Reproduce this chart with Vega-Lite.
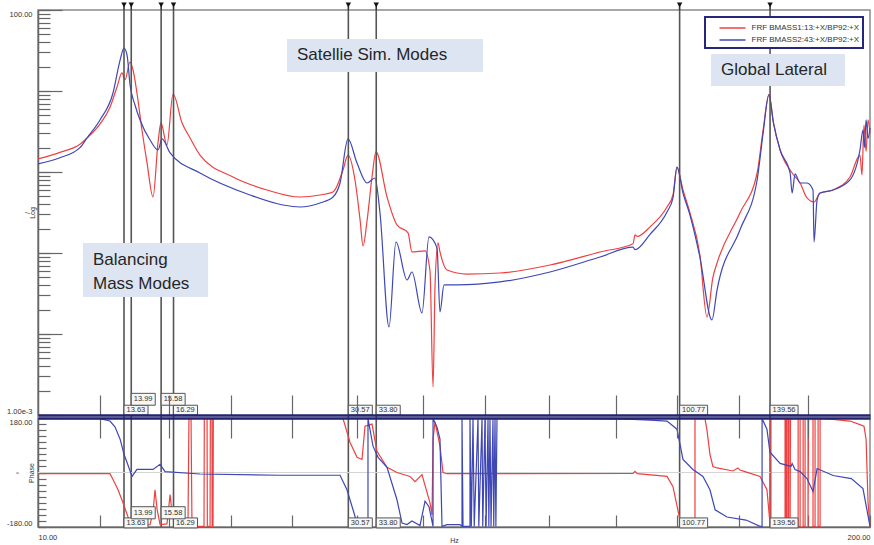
{
  "$schema": "https://vega.github.io/schema/vega-lite/v6.json",
  "width": 832,
  "height": 517,
  "autosize": {"type": "none"},
  "padding": {"left": 38, "top": 10, "right": 4, "bottom": 18},
  "background": "white",
  "datasets": {
    "mag": [
      {"f":10.00,"v":1.45,"s":"FRF BMASS1:13:+X/BP92:+X"},{"f":10.82,"v":1.75,"s":"FRF BMASS1:13:+X/BP92:+X"},{"f":11.63,"v":2.2,"s":"FRF BMASS1:13:+X/BP92:+X"},{"f":11.93,"v":2.63,"s":"FRF BMASS1:13:+X/BP92:+X"},{"f":12.50,"v":3.9,"s":"FRF BMASS1:13:+X/BP92:+X"},{"f":12.96,"v":6.3,"s":"FRF BMASS1:13:+X/BP92:+X"},{"f":13.29,"v":11.2,"s":"FRF BMASS1:13:+X/BP92:+X"},{"f":13.53,"v":16.7,"s":"FRF BMASS1:13:+X/BP92:+X"},{"f":13.68,"v":13.7,"s":"FRF BMASS1:13:+X/BP92:+X"},{"f":13.93,"v":22.8,"s":"FRF BMASS1:13:+X/BP92:+X"},{"f":14.08,"v":18.2,"s":"FRF BMASS1:13:+X/BP92:+X"},{"f":14.28,"v":9.45,"s":"FRF BMASS1:13:+X/BP92:+X"},{"f":14.54,"v":3.3,"s":"FRF BMASS1:13:+X/BP92:+X"},{"f":14.81,"v":1.29,"s":"FRF BMASS1:13:+X/BP92:+X"},{"f":15.13,"v":0.491,"s":"FRF BMASS1:13:+X/BP92:+X"},{"f":15.41,"v":2.35,"s":"FRF BMASS1:13:+X/BP92:+X"},{"f":15.57,"v":4.03,"s":"FRF BMASS1:13:+X/BP92:+X"},{"f":15.91,"v":2.15,"s":"FRF BMASS1:13:+X/BP92:+X"},{"f":16.26,"v":9.18,"s":"FRF BMASS1:13:+X/BP92:+X"},{"f":16.80,"v":4.03,"s":"FRF BMASS1:13:+X/BP92:+X"},{"f":17.29,"v":2.63,"s":"FRF BMASS1:13:+X/BP92:+X"},{"f":17.92,"v":1.62,"s":"FRF BMASS1:13:+X/BP92:+X"},{"f":20.18,"v":0.868,"s":"FRF BMASS1:13:+X/BP92:+X"},{"f":22.81,"v":0.6,"s":"FRF BMASS1:13:+X/BP92:+X"},{"f":25.68,"v":0.491,"s":"FRF BMASS1:13:+X/BP92:+X"},{"f":27.61,"v":0.52,"s":"FRF BMASS1:13:+X/BP92:+X"},{"f":28.93,"v":0.566,"s":"FRF BMASS1:13:+X/BP92:+X"},{"f":29.99,"v":1.06,"s":"FRF BMASS1:13:+X/BP92:+X"},{"f":30.53,"v":1.62,"s":"FRF BMASS1:13:+X/BP92:+X"},{"f":31.31,"v":0.797,"s":"FRF BMASS1:13:+X/BP92:+X"},{"f":31.9,"v":0.25,"s":"FRF BMASS1:13:+X/BP92:+X"},{"f":32.23,"v":0.122,"s":"FRF BMASS1:13:+X/BP92:+X"},{"f":32.7,"v":0.25,"s":"FRF BMASS1:13:+X/BP92:+X"},{"f":33.29,"v":0.868,"s":"FRF BMASS1:13:+X/BP92:+X"},{"f":33.77,"v":1.77,"s":"FRF BMASS1:13:+X/BP92:+X"},{"f":35.14,"v":0.491,"s":"FRF BMASS1:13:+X/BP92:+X"},{"f":36.42,"v":0.222,"s":"FRF BMASS1:13:+X/BP92:+X"},{"f":37.9,"v":0.177,"s":"FRF BMASS1:13:+X/BP92:+X"},{"f":38.44,"v":0.103,"s":"FRF BMASS1:13:+X/BP92:+X"},{"f":40.29,"v":0.106,"s":"FRF BMASS1:13:+X/BP92:+X"},{"f":41.02,"v":0.06,"s":"FRF BMASS1:13:+X/BP92:+X"},{"f":41.47,"v":0.00222,"s":"FRF BMASS1:13:+X/BP92:+X"},{"f":41.77,"v":0.04,"s":"FRF BMASS1:13:+X/BP92:+X"},{"f":42.22,"v":0.133,"s":"FRF BMASS1:13:+X/BP92:+X"},{"f":42.52,"v":0.103,"s":"FRF BMASS1:13:+X/BP92:+X"},{"f":43.61,"v":0.0617,"s":"FRF BMASS1:13:+X/BP92:+X"},{"f":46.86,"v":0.055,"s":"FRF BMASS1:13:+X/BP92:+X"},{"f":52.78,"v":0.0566,"s":"FRF BMASS1:13:+X/BP92:+X"},{"f":63.18,"v":0.0711,"s":"FRF BMASS1:13:+X/BP92:+X"},{"f":75.65,"v":0.103,"s":"FRF BMASS1:13:+X/BP92:+X"},{"f":85.21,"v":0.13,"s":"FRF BMASS1:13:+X/BP92:+X"},{"f":85.82,"v":0.168,"s":"FRF BMASS1:13:+X/BP92:+X"},{"f":86.5,"v":0.16,"s":"FRF BMASS1:13:+X/BP92:+X"},{"f":90.58,"v":0.21,"s":"FRF BMASS1:13:+X/BP92:+X"},{"f":96.29,"v":0.37,"s":"FRF BMASS1:13:+X/BP92:+X"},{"f":98.39,"v":0.52,"s":"FRF BMASS1:13:+X/BP92:+X"},{"f":99.82,"v":1.15,"s":"FRF BMASS1:13:+X/BP92:+X"},{"f":102.0,"v":0.6,"s":"FRF BMASS1:13:+X/BP92:+X"},{"f":104.6,"v":0.312,"s":"FRF BMASS1:13:+X/BP92:+X"},{"f":108.4,"v":0.0945,"s":"FRF BMASS1:13:+X/BP92:+X"},{"f":111.2,"v":0.0162,"s":"FRF BMASS1:13:+X/BP92:+X"},{"f":113.6,"v":0.05,"s":"FRF BMASS1:13:+X/BP92:+X"},{"f":115.3,"v":0.0752,"s":"FRF BMASS1:13:+X/BP92:+X"},{"f":125.2,"v":0.312,"s":"FRF BMASS1:13:+X/BP92:+X"},{"f":133.2,"v":0.972,"s":"FRF BMASS1:13:+X/BP92:+X"},{"f":136.1,"v":3.3,"s":"FRF BMASS1:13:+X/BP92:+X"},{"f":139.0,"v":9.0,"s":"FRF BMASS1:13:+X/BP92:+X"},{"f":141.3,"v":4.0,"s":"FRF BMASS1:13:+X/BP92:+X"},{"f":144.7,"v":1.87,"s":"FRF BMASS1:13:+X/BP92:+X"},{"f":151.1,"v":0.972,"s":"FRF BMASS1:13:+X/BP92:+X"},{"f":155.5,"v":0.732,"s":"FRF BMASS1:13:+X/BP92:+X"},{"f":159.4,"v":0.478,"s":"FRF BMASS1:13:+X/BP92:+X"},{"f":163.5,"v":0.426,"s":"FRF BMASS1:13:+X/BP92:+X"},{"f":167.1,"v":0.55,"s":"FRF BMASS1:13:+X/BP92:+X"},{"f":175.1,"v":0.6,"s":"FRF BMASS1:13:+X/BP92:+X"},{"f":186.1,"v":0.868,"s":"FRF BMASS1:13:+X/BP92:+X"},{"f":192.9,"v":1.62,"s":"FRF BMASS1:13:+X/BP92:+X"},{"f":194.3,"v":0.918,"s":"FRF BMASS1:13:+X/BP92:+X"},{"f":195.7,"v":3.8,"s":"FRF BMASS1:13:+X/BP92:+X"},{"f":197.2,"v":1.8,"s":"FRF BMASS1:13:+X/BP92:+X"},{"f":198.6,"v":4.4,"s":"FRF BMASS1:13:+X/BP92:+X"},{"f":200,"v":3.0,"s":"FRF BMASS1:13:+X/BP92:+X"},
      {"f":10.00,"v":1.26,"s":"FRF BMASS2:43:+X/BP92:+X"},{"f":10.82,"v":1.5,"s":"FRF BMASS2:43:+X/BP92:+X"},{"f":11.63,"v":2.0,"s":"FRF BMASS2:43:+X/BP92:+X"},{"f":11.93,"v":2.63,"s":"FRF BMASS2:43:+X/BP92:+X"},{"f":12.50,"v":4.39,"s":"FRF BMASS2:43:+X/BP92:+X"},{"f":13.10,"v":9.45,"s":"FRF BMASS2:43:+X/BP92:+X"},{"f":13.44,"v":24.1,"s":"FRF BMASS2:43:+X/BP92:+X"},{"f":13.63,"v":33.96,"s":"FRF BMASS2:43:+X/BP92:+X"},{"f":13.78,"v":27.8,"s":"FRF BMASS2:43:+X/BP92:+X"},{"f":13.93,"v":11.9,"s":"FRF BMASS2:43:+X/BP92:+X"},{"f":14.18,"v":6.72,"s":"FRF BMASS2:43:+X/BP92:+X"},{"f":14.44,"v":4.39,"s":"FRF BMASS2:43:+X/BP92:+X"},{"f":14.97,"v":2.48,"s":"FRF BMASS2:43:+X/BP92:+X"},{"f":15.41,"v":1.87,"s":"FRF BMASS2:43:+X/BP92:+X"},{"f":15.63,"v":2.56,"s":"FRF BMASS2:43:+X/BP92:+X"},{"f":16.09,"v":1.72,"s":"FRF BMASS2:43:+X/BP92:+X"},{"f":17.92,"v":0.972,"s":"FRF BMASS2:43:+X/BP92:+X"},{"f":21.45,"v":0.52,"s":"FRF BMASS2:43:+X/BP92:+X"},{"f":24.16,"v":0.391,"s":"FRF BMASS2:43:+X/BP92:+X"},{"f":25.68,"v":0.37,"s":"FRF BMASS2:43:+X/BP92:+X"},{"f":27.61,"v":0.414,"s":"FRF BMASS2:43:+X/BP92:+X"},{"f":28.93,"v":0.491,"s":"FRF BMASS2:43:+X/BP92:+X"},{"f":29.67,"v":0.732,"s":"FRF BMASS2:43:+X/BP92:+X"},{"f":30.53,"v":2.56,"s":"FRF BMASS2:43:+X/BP92:+X"},{"f":31.54,"v":1.29,"s":"FRF BMASS2:43:+X/BP92:+X"},{"f":32.7,"v":0.732,"s":"FRF BMASS2:43:+X/BP92:+X"},{"f":33.65,"v":0.843,"s":"FRF BMASS2:43:+X/BP92:+X"},{"f":34.26,"v":0.312,"s":"FRF BMASS2:43:+X/BP92:+X"},{"f":35.39,"v":0.0122,"s":"FRF BMASS2:43:+X/BP92:+X"},{"f":36.29,"v":0.137,"s":"FRF BMASS2:43:+X/BP92:+X"},{"f":37.76,"v":0.0464,"s":"FRF BMASS2:43:+X/BP92:+X"},{"f":38.44,"v":0.0583,"s":"FRF BMASS2:43:+X/BP92:+X"},{"f":39.85,"v":0.0182,"s":"FRF BMASS2:43:+X/BP92:+X"},{"f":40.87,"v":0.158,"s":"FRF BMASS2:43:+X/BP92:+X"},{"f":42.07,"v":0.115,"s":"FRF BMASS2:43:+X/BP92:+X"},{"f":42.52,"v":0.0187,"s":"FRF BMASS2:43:+X/BP92:+X"},{"f":43.14,"v":0.0403,"s":"FRF BMASS2:43:+X/BP92:+X"},{"f":45.21,"v":0.0403,"s":"FRF BMASS2:43:+X/BP92:+X"},{"f":52.78,"v":0.0439,"s":"FRF BMASS2:43:+X/BP92:+X"},{"f":63.18,"v":0.0583,"s":"FRF BMASS2:43:+X/BP92:+X"},{"f":75.65,"v":0.0892,"s":"FRF BMASS2:43:+X/BP92:+X"},{"f":85.21,"v":0.118,"s":"FRF BMASS2:43:+X/BP92:+X"},{"f":85.82,"v":0.11,"s":"FRF BMASS2:43:+X/BP92:+X"},{"f":90.58,"v":0.17,"s":"FRF BMASS2:43:+X/BP92:+X"},{"f":96.29,"v":0.321,"s":"FRF BMASS2:43:+X/BP92:+X"},{"f":98.39,"v":0.48,"s":"FRF BMASS2:43:+X/BP92:+X"},{"f":99.82,"v":1.15,"s":"FRF BMASS2:43:+X/BP92:+X"},{"f":102.0,"v":0.55,"s":"FRF BMASS2:43:+X/BP92:+X"},{"f":104.6,"v":0.294,"s":"FRF BMASS2:43:+X/BP92:+X"},{"f":108.4,"v":0.0892,"s":"FRF BMASS2:43:+X/BP92:+X"},{"f":113.2,"v":0.0149,"s":"FRF BMASS2:43:+X/BP92:+X"},{"f":115.3,"v":0.0349,"s":"FRF BMASS2:43:+X/BP92:+X"},{"f":125.2,"v":0.192,"s":"FRF BMASS2:43:+X/BP92:+X"},{"f":133.2,"v":0.797,"s":"FRF BMASS2:43:+X/BP92:+X"},{"f":136.1,"v":3.0,"s":"FRF BMASS2:43:+X/BP92:+X"},{"f":139.0,"v":9.0,"s":"FRF BMASS2:43:+X/BP92:+X"},{"f":141.3,"v":4.0,"s":"FRF BMASS2:43:+X/BP92:+X"},{"f":144.7,"v":1.87,"s":"FRF BMASS2:43:+X/BP92:+X"},{"f":150.0,"v":0.972,"s":"FRF BMASS2:43:+X/BP92:+X"},{"f":151.1,"v":0.55,"s":"FRF BMASS2:43:+X/BP92:+X"},{"f":152.7,"v":0.95,"s":"FRF BMASS2:43:+X/BP92:+X"},{"f":155.5,"v":0.732,"s":"FRF BMASS2:43:+X/BP92:+X"},{"f":159.4,"v":0.732,"s":"FRF BMASS2:43:+X/BP92:+X"},{"f":162.9,"v":0.6,"s":"FRF BMASS2:43:+X/BP92:+X"},{"f":163.5,"v":0.137,"s":"FRF BMASS2:43:+X/BP92:+X"},{"f":165.3,"v":0.45,"s":"FRF BMASS2:43:+X/BP92:+X"},{"f":167.1,"v":0.55,"s":"FRF BMASS2:43:+X/BP92:+X"},{"f":175.1,"v":0.6,"s":"FRF BMASS2:43:+X/BP92:+X"},{"f":186.1,"v":0.797,"s":"FRF BMASS2:43:+X/BP92:+X"},{"f":192.9,"v":1.87,"s":"FRF BMASS2:43:+X/BP92:+X"},{"f":195.0,"v":3.3,"s":"FRF BMASS2:43:+X/BP92:+X"},{"f":196.0,"v":2.0,"s":"FRF BMASS2:43:+X/BP92:+X"},{"f":197.2,"v":4.4,"s":"FRF BMASS2:43:+X/BP92:+X"},{"f":198.6,"v":2.6,"s":"FRF BMASS2:43:+X/BP92:+X"},{"f":200,"v":3.5,"s":"FRF BMASS2:43:+X/BP92:+X"}
    ],
    "phase": [
      {"f":10.00,"v":-4,"s":"FRF BMASS1:13:+X/BP92:+X"},{"f":12.96,"v":-4,"s":"FRF BMASS1:13:+X/BP92:+X"},{"f":13.10,"v":-23,"s":"FRF BMASS1:13:+X/BP92:+X"},{"f":13.34,"v":-57,"s":"FRF BMASS1:13:+X/BP92:+X"},{"f":13.58,"v":-100,"s":"FRF BMASS1:13:+X/BP92:+X"},{"f":13.83,"v":-147,"s":"FRF BMASS1:13:+X/BP92:+X"},{"f":14.03,"v":-173,"s":"FRF BMASS1:13:+X/BP92:+X"},{"f":14.97,"v":-172,"s":"FRF BMASS1:13:+X/BP92:+X"},{"f":15.13,"v":-130,"s":"FRF BMASS1:13:+X/BP92:+X"},{"f":15.24,"v":-57,"s":"FRF BMASS1:13:+X/BP92:+X"},{"f":15.35,"v":-120,"s":"FRF BMASS1:13:+X/BP92:+X"},{"f":15.52,"v":-172,"s":"FRF BMASS1:13:+X/BP92:+X"},{"f":15.91,"v":-170,"s":"FRF BMASS1:13:+X/BP92:+X"},{"f":16.09,"v":-73,"s":"FRF BMASS1:13:+X/BP92:+X"},{"f":16.2,"v":-130,"s":"FRF BMASS1:13:+X/BP92:+X"},{"f":16.38,"v":-178,"s":"FRF BMASS1:13:+X/BP92:+X"},{"f":17.16,"v":-178,"s":"FRF BMASS1:13:+X/BP92:+X"},{"f":17.22,"v":178,"s":"FRF BMASS1:13:+X/BP92:+X"},{"f":17.35,"v":178,"s":"FRF BMASS1:13:+X/BP92:+X"},{"f":17.41,"v":-178,"s":"FRF BMASS1:13:+X/BP92:+X"},{"f":18.18,"v":-178,"s":"FRF BMASS1:13:+X/BP92:+X"},{"f":18.2,"v":178,"s":"FRF BMASS1:13:+X/BP92:+X"},{"f":18.38,"v":178,"s":"FRF BMASS1:13:+X/BP92:+X"},{"f":18.4,"v":-178,"s":"FRF BMASS1:13:+X/BP92:+X"},{"f":18.58,"v":-178,"s":"FRF BMASS1:13:+X/BP92:+X"},{"f":18.6,"v":178,"s":"FRF BMASS1:13:+X/BP92:+X"},{"f":18.71,"v":178,"s":"FRF BMASS1:13:+X/BP92:+X"},{"f":18.72,"v":-178,"s":"FRF BMASS1:13:+X/BP92:+X"},{"f":18.78,"v":-178,"s":"FRF BMASS1:13:+X/BP92:+X"},{"f":18.8,"v":178,"s":"FRF BMASS1:13:+X/BP92:+X"},{"f":29.99,"v":178,"s":"FRF BMASS1:13:+X/BP92:+X"},{"f":30.75,"v":100,"s":"FRF BMASS1:13:+X/BP92:+X"},{"f":31.54,"v":50,"s":"FRF BMASS1:13:+X/BP92:+X"},{"f":32.11,"v":43,"s":"FRF BMASS1:13:+X/BP92:+X"},{"f":32.46,"v":153,"s":"FRF BMASS1:13:+X/BP92:+X"},{"f":33.29,"v":160,"s":"FRF BMASS1:13:+X/BP92:+X"},{"f":33.89,"v":70,"s":"FRF BMASS1:13:+X/BP92:+X"},{"f":35.14,"v":17,"s":"FRF BMASS1:13:+X/BP92:+X"},{"f":36.42,"v":0,"s":"FRF BMASS1:13:+X/BP92:+X"},{"f":38.17,"v":-13,"s":"FRF BMASS1:13:+X/BP92:+X"},{"f":38.86,"v":-30,"s":"FRF BMASS1:13:+X/BP92:+X"},{"f":39.85,"v":-7,"s":"FRF BMASS1:13:+X/BP92:+X"},{"f":41.02,"v":-100,"s":"FRF BMASS1:13:+X/BP92:+X"},{"f":41.32,"v":-140,"s":"FRF BMASS1:13:+X/BP92:+X"},{"f":41.47,"v":110,"s":"FRF BMASS1:13:+X/BP92:+X"},{"f":41.77,"v":167,"s":"FRF BMASS1:13:+X/BP92:+X"},{"f":42.52,"v":87,"s":"FRF BMASS1:13:+X/BP92:+X"},{"f":42.99,"v":0,"s":"FRF BMASS1:13:+X/BP92:+X"},{"f":43.61,"v":-4,"s":"FRF BMASS1:13:+X/BP92:+X"},{"f":52.78,"v":-4,"s":"FRF BMASS1:13:+X/BP92:+X"},{"f":85.21,"v":-3,"s":"FRF BMASS1:13:+X/BP92:+X"},{"f":85.82,"v":4,"s":"FRF BMASS1:13:+X/BP92:+X"},{"f":86.5,"v":-4,"s":"FRF BMASS1:13:+X/BP92:+X"},{"f":96.29,"v":-13,"s":"FRF BMASS1:13:+X/BP92:+X"},{"f":98.39,"v":-47,"s":"FRF BMASS1:13:+X/BP92:+X"},{"f":100.9,"v":-157,"s":"FRF BMASS1:13:+X/BP92:+X"},{"f":102.0,"v":-178,"s":"FRF BMASS1:13:+X/BP92:+X"},{"f":106.5,"v":-178,"s":"FRF BMASS1:13:+X/BP92:+X"},{"f":106.5,"v":178,"s":"FRF BMASS1:13:+X/BP92:+X"},{"f":110.4,"v":178,"s":"FRF BMASS1:13:+X/BP92:+X"},{"f":111.2,"v":140,"s":"FRF BMASS1:13:+X/BP92:+X"},{"f":112.4,"v":60,"s":"FRF BMASS1:13:+X/BP92:+X"},{"f":113.6,"v":20,"s":"FRF BMASS1:13:+X/BP92:+X"},{"f":115.3,"v":15,"s":"FRF BMASS1:13:+X/BP92:+X"},{"f":122.1,"v":5,"s":"FRF BMASS1:13:+X/BP92:+X"},{"f":124.3,"v":15,"s":"FRF BMASS1:13:+X/BP92:+X"},{"f":125.2,"v":8,"s":"FRF BMASS1:13:+X/BP92:+X"},{"f":127.5,"v":3,"s":"FRF BMASS1:13:+X/BP92:+X"},{"f":134.6,"v":-13,"s":"FRF BMASS1:13:+X/BP92:+X"},{"f":138.0,"v":-57,"s":"FRF BMASS1:13:+X/BP92:+X"},{"f":139.5,"v":-167,"s":"FRF BMASS1:13:+X/BP92:+X"},{"f":140.0,"v":-178,"s":"FRF BMASS1:13:+X/BP92:+X"},{"f":140.0,"v":178,"s":"FRF BMASS1:13:+X/BP92:+X"},{"f":147.3,"v":178,"s":"FRF BMASS1:13:+X/BP92:+X"},{"f":147.3,"v":-178,"s":"FRF BMASS1:13:+X/BP92:+X"},{"f":147.8,"v":-178,"s":"FRF BMASS1:13:+X/BP92:+X"},{"f":147.8,"v":178,"s":"FRF BMASS1:13:+X/BP92:+X"},{"f":148.4,"v":178,"s":"FRF BMASS1:13:+X/BP92:+X"},{"f":148.4,"v":-178,"s":"FRF BMASS1:13:+X/BP92:+X"},{"f":149.2,"v":-178,"s":"FRF BMASS1:13:+X/BP92:+X"},{"f":149.2,"v":178,"s":"FRF BMASS1:13:+X/BP92:+X"},{"f":150.0,"v":178,"s":"FRF BMASS1:13:+X/BP92:+X"},{"f":150.0,"v":-178,"s":"FRF BMASS1:13:+X/BP92:+X"},{"f":150.2,"v":178,"s":"FRF BMASS1:13:+X/BP92:+X"},{"f":154.4,"v":178,"s":"FRF BMASS1:13:+X/BP92:+X"},{"f":154.4,"v":-178,"s":"FRF BMASS1:13:+X/BP92:+X"},{"f":155.5,"v":-178,"s":"FRF BMASS1:13:+X/BP92:+X"},{"f":155.5,"v":178,"s":"FRF BMASS1:13:+X/BP92:+X"},{"f":157.2,"v":178,"s":"FRF BMASS1:13:+X/BP92:+X"},{"f":157.2,"v":-178,"s":"FRF BMASS1:13:+X/BP92:+X"},{"f":158.3,"v":-178,"s":"FRF BMASS1:13:+X/BP92:+X"},{"f":158.3,"v":178,"s":"FRF BMASS1:13:+X/BP92:+X"},{"f":160.0,"v":178,"s":"FRF BMASS1:13:+X/BP92:+X"},{"f":160.0,"v":-178,"s":"FRF BMASS1:13:+X/BP92:+X"},{"f":160.3,"v":178,"s":"FRF BMASS1:13:+X/BP92:+X"},{"f":162.9,"v":178,"s":"FRF BMASS1:13:+X/BP92:+X"},{"f":162.9,"v":-178,"s":"FRF BMASS1:13:+X/BP92:+X"},{"f":164.1,"v":-178,"s":"FRF BMASS1:13:+X/BP92:+X"},{"f":164.1,"v":178,"s":"FRF BMASS1:13:+X/BP92:+X"},{"f":165.9,"v":178,"s":"FRF BMASS1:13:+X/BP92:+X"},{"f":165.9,"v":-178,"s":"FRF BMASS1:13:+X/BP92:+X"},{"f":167.1,"v":-178,"s":"FRF BMASS1:13:+X/BP92:+X"},{"f":167.1,"v":178,"s":"FRF BMASS1:13:+X/BP92:+X"},{"f":175.1,"v":175,"s":"FRF BMASS1:13:+X/BP92:+X"},{"f":186.1,"v":170,"s":"FRF BMASS1:13:+X/BP92:+X"},{"f":192.9,"v":158,"s":"FRF BMASS1:13:+X/BP92:+X"},{"f":195.7,"v":153,"s":"FRF BMASS1:13:+X/BP92:+X"},{"f":197.2,"v":110,"s":"FRF BMASS1:13:+X/BP92:+X"},{"f":198.6,"v":-100,"s":"FRF BMASS1:13:+X/BP92:+X"},{"f":200,"v":-178,"s":"FRF BMASS1:13:+X/BP92:+X"},
      {"f":10.00,"v":178,"s":"FRF BMASS2:43:+X/BP92:+X"},{"f":12.5,"v":178,"s":"FRF BMASS2:43:+X/BP92:+X"},{"f":12.96,"v":170,"s":"FRF BMASS2:43:+X/BP92:+X"},{"f":13.2,"v":150,"s":"FRF BMASS2:43:+X/BP92:+X"},{"f":13.44,"v":110,"s":"FRF BMASS2:43:+X/BP92:+X"},{"f":13.63,"v":60,"s":"FRF BMASS2:43:+X/BP92:+X"},{"f":13.78,"v":33,"s":"FRF BMASS2:43:+X/BP92:+X"},{"f":14.03,"v":-13,"s":"FRF BMASS2:43:+X/BP92:+X"},{"f":14.28,"v":10,"s":"FRF BMASS2:43:+X/BP92:+X"},{"f":15.13,"v":10,"s":"FRF BMASS2:43:+X/BP92:+X"},{"f":15.52,"v":27,"s":"FRF BMASS2:43:+X/BP92:+X"},{"f":15.8,"v":3,"s":"FRF BMASS2:43:+X/BP92:+X"},{"f":17.92,"v":-5,"s":"FRF BMASS2:43:+X/BP92:+X"},{"f":23.9,"v":-9,"s":"FRF BMASS2:43:+X/BP92:+X"},{"f":29.67,"v":-9,"s":"FRF BMASS2:43:+X/BP92:+X"},{"f":30.42,"v":-57,"s":"FRF BMASS2:43:+X/BP92:+X"},{"f":31.09,"v":-123,"s":"FRF BMASS2:43:+X/BP92:+X"},{"f":31.65,"v":-178,"s":"FRF BMASS2:43:+X/BP92:+X"},{"f":32.81,"v":-178,"s":"FRF BMASS2:43:+X/BP92:+X"},{"f":32.81,"v":178,"s":"FRF BMASS2:43:+X/BP92:+X"},{"f":33.41,"v":87,"s":"FRF BMASS2:43:+X/BP92:+X"},{"f":34.02,"v":50,"s":"FRF BMASS2:43:+X/BP92:+X"},{"f":35.14,"v":17,"s":"FRF BMASS2:43:+X/BP92:+X"},{"f":35.9,"v":-47,"s":"FRF BMASS2:43:+X/BP92:+X"},{"f":36.42,"v":-90,"s":"FRF BMASS2:43:+X/BP92:+X"},{"f":37.09,"v":-167,"s":"FRF BMASS2:43:+X/BP92:+X"},{"f":37.76,"v":-172,"s":"FRF BMASS2:43:+X/BP92:+X"},{"f":38.44,"v":-160,"s":"FRF BMASS2:43:+X/BP92:+X"},{"f":39.57,"v":-175,"s":"FRF BMASS2:43:+X/BP92:+X"},{"f":40.29,"v":-95,"s":"FRF BMASS2:43:+X/BP92:+X"},{"f":40.87,"v":-113,"s":"FRF BMASS2:43:+X/BP92:+X"},{"f":41.47,"v":-178,"s":"FRF BMASS2:43:+X/BP92:+X"},{"f":41.47,"v":178,"s":"FRF BMASS2:43:+X/BP92:+X"},{"f":42.07,"v":150,"s":"FRF BMASS2:43:+X/BP92:+X"},{"f":42.52,"v":110,"s":"FRF BMASS2:43:+X/BP92:+X"},{"f":42.83,"v":-178,"s":"FRF BMASS2:43:+X/BP92:+X"},{"f":43.61,"v":-172,"s":"FRF BMASS2:43:+X/BP92:+X"},{"f":45.7,"v":-172,"s":"FRF BMASS2:43:+X/BP92:+X"},{"f":46.03,"v":-178,"s":"FRF BMASS2:43:+X/BP92:+X"},{"f":46.03,"v":178,"s":"FRF BMASS2:43:+X/BP92:+X"},{"f":46.2,"v":-178,"s":"FRF BMASS2:43:+X/BP92:+X"},{"f":47.37,"v":-178,"s":"FRF BMASS2:43:+X/BP92:+X"},{"f":47.37,"v":178,"s":"FRF BMASS2:43:+X/BP92:+X"},{"f":47.6,"v":-178,"s":"FRF BMASS2:43:+X/BP92:+X"},{"f":47.89,"v":178,"s":"FRF BMASS2:43:+X/BP92:+X"},{"f":48.1,"v":-178,"s":"FRF BMASS2:43:+X/BP92:+X"},{"f":48.76,"v":178,"s":"FRF BMASS2:43:+X/BP92:+X"},{"f":48.9,"v":-178,"s":"FRF BMASS2:43:+X/BP92:+X"},{"f":49.47,"v":178,"s":"FRF BMASS2:43:+X/BP92:+X"},{"f":49.6,"v":-178,"s":"FRF BMASS2:43:+X/BP92:+X"},{"f":50.0,"v":178,"s":"FRF BMASS2:43:+X/BP92:+X"},{"f":50.2,"v":-178,"s":"FRF BMASS2:43:+X/BP92:+X"},{"f":50.55,"v":178,"s":"FRF BMASS2:43:+X/BP92:+X"},{"f":50.7,"v":-178,"s":"FRF BMASS2:43:+X/BP92:+X"},{"f":50.91,"v":178,"s":"FRF BMASS2:43:+X/BP92:+X"},{"f":51.1,"v":-178,"s":"FRF BMASS2:43:+X/BP92:+X"},{"f":51.46,"v":178,"s":"FRF BMASS2:43:+X/BP92:+X"},{"f":51.6,"v":-178,"s":"FRF BMASS2:43:+X/BP92:+X"},{"f":51.84,"v":178,"s":"FRF BMASS2:43:+X/BP92:+X"},{"f":52.0,"v":-178,"s":"FRF BMASS2:43:+X/BP92:+X"},{"f":52.21,"v":178,"s":"FRF BMASS2:43:+X/BP92:+X"},{"f":63.18,"v":178,"s":"FRF BMASS2:43:+X/BP92:+X"},{"f":75.65,"v":177,"s":"FRF BMASS2:43:+X/BP92:+X"},{"f":85.21,"v":175,"s":"FRF BMASS2:43:+X/BP92:+X"},{"f":90.58,"v":173,"s":"FRF BMASS2:43:+X/BP92:+X"},{"f":96.29,"v":170,"s":"FRF BMASS2:43:+X/BP92:+X"},{"f":99.82,"v":143,"s":"FRF BMASS2:43:+X/BP92:+X"},{"f":102.0,"v":43,"s":"FRF BMASS2:43:+X/BP92:+X"},{"f":105.7,"v":10,"s":"FRF BMASS2:43:+X/BP92:+X"},{"f":109.6,"v":-13,"s":"FRF BMASS2:43:+X/BP92:+X"},{"f":112.4,"v":-57,"s":"FRF BMASS2:43:+X/BP92:+X"},{"f":114.5,"v":-123,"s":"FRF BMASS2:43:+X/BP92:+X"},{"f":119.5,"v":-147,"s":"FRF BMASS2:43:+X/BP92:+X"},{"f":128.0,"v":-157,"s":"FRF BMASS2:43:+X/BP92:+X"},{"f":134.6,"v":-178,"s":"FRF BMASS2:43:+X/BP92:+X"},{"f":135.6,"v":-178,"s":"FRF BMASS2:43:+X/BP92:+X"},{"f":135.6,"v":178,"s":"FRF BMASS2:43:+X/BP92:+X"},{"f":138.0,"v":143,"s":"FRF BMASS2:43:+X/BP92:+X"},{"f":139.5,"v":67,"s":"FRF BMASS2:43:+X/BP92:+X"},{"f":144.7,"v":30,"s":"FRF BMASS2:43:+X/BP92:+X"},{"f":150.5,"v":20,"s":"FRF BMASS2:43:+X/BP92:+X"},{"f":151.1,"v":30,"s":"FRF BMASS2:43:+X/BP92:+X"},{"f":152.7,"v":10,"s":"FRF BMASS2:43:+X/BP92:+X"},{"f":155.5,"v":3,"s":"FRF BMASS2:43:+X/BP92:+X"},{"f":159.4,"v":-20,"s":"FRF BMASS2:43:+X/BP92:+X"},{"f":162.9,"v":-63,"s":"FRF BMASS2:43:+X/BP92:+X"},{"f":165.3,"v":13,"s":"FRF BMASS2:43:+X/BP92:+X"},{"f":175.1,"v":-10,"s":"FRF BMASS2:43:+X/BP92:+X"},{"f":187.0,"v":-20,"s":"FRF BMASS2:43:+X/BP92:+X"},{"f":195.0,"v":-53,"s":"FRF BMASS2:43:+X/BP92:+X"},{"f":198.2,"v":-133,"s":"FRF BMASS2:43:+X/BP92:+X"},{"f":200,"v":-178,"s":"FRF BMASS2:43:+X/BP92:+X"}
    ],
    "markers": [
      {"f":13.63,"label":"13.63"},{"f":13.99,"label":"13.99"},{"f":15.58,"label":"15.58"},{"f":16.29,"label":"16.29"},
      {"f":30.57,"label":"30.57"},{"f":33.80,"label":"33.80"},{"f":100.77,"label":"100.77"},{"f":139.56,"label":"139.56"}
    ]
  },
  "resolve": {"scale": {"y": "independent"}, "axis": {"x": "independent", "y": "independent"}},
  "layer": [
    {
      "resolve": {"axis": {"x": "independent", "y": "independent"}},
      "layer": [
        {
          "data": {"name": "mag"},
          "mark": {"type": "line", "strokeWidth": 1.2, "interpolate": "monotone"},
          "encoding": {
            "x": {"field": "f", "type": "quantitative", "scale": {"type": "log", "domain": [10, 200], "nice": false},
              "axis": {"orient": "bottom", "offset": -112, "values": [12.5,16,20,25,31.5,40,50,63,80,100,125,160], "tickSize": -20, "labels": false, "title": null, "domainColor": "#23236e", "domainWidth": 2.5, "zindex": 2}},
            "y": {"field": "v", "type": "quantitative", "scale": {"type": "log", "domain": [0.001, 100], "range": [405, 0], "nice": false},
              "axis": {"orient": "left", "values": [0.001,0.002,0.003,0.004,0.005,0.006,0.007,0.008,0.009,0.01,0.02,0.03,0.04,0.05,0.06,0.07,0.08,0.09,0.1,0.2,0.3,0.4,0.5,0.6,0.7,0.8,0.9,1,2,3,4,5,6,7,8,9,10,20,30,40,50,60,70,80,90,100],
                "tickSize": -12, "labelExpr": "datum.value >= 99 ? '100.00' : (datum.value <= 0.00101 ? '1.00e-3' : '')", "labelFlush": true, "labelOverlap": false, "labelPadding": 18,
                "title": ["/", "Log"], "titleX": -11, "titleBaseline": "middle", "titleAngle": -90, "titleLineHeight": 5}},
            "color": {"field": "s", "type": "nominal",
              "scale": {"domain": ["FRF BMASS1:13:+X/BP92:+X", "FRF BMASS2:43:+X/BP92:+X"], "range": ["#ee4040", "#3f47b5"]},
              "legend": {"title": null, "orient": "top-right", "offset": 7}}
          }
        },
        {
          "data": {"name": "markers"},
          "mark": {"type": "rule", "color": "#555555", "strokeWidth": 1.6},
          "encoding": {"x": {"field": "f", "type": "quantitative", "axis": null}}
        },
        {
          "data": {"name": "markers"},
          "mark": {"type": "rule", "color": "#333333", "strokeWidth": 1.6},
          "encoding": {
            "x": {"field": "f", "type": "quantitative", "axis": null},
            "y": {"datum": 100, "axis": null},
            "y2": {"datum": 115.3}
          }
        },
        {
          "data": {"name": "markers"},
          "mark": {"type": "point", "shape": "triangle-down", "filled": true, "size": 30, "color": "#111111", "opacity": 1},
          "encoding": {
            "x": {"field": "f", "type": "quantitative", "axis": null},
            "y": {"datum": 115.3, "axis": {"orient": "left", "values": [0.001, 0.01, 0.1, 1, 10, 100], "tickSize": -24, "labels": false, "domain": false, "title": null}}
          }
        },
        {
          "data": {"name": "markers"},
          "transform": [{"filter": "length(datum.label) == 5 && datum.label != '13.99' && datum.label != '15.58'"}],
          "mark": {"type": "rect", "fill": "#f7f7f7", "stroke": "#555555", "strokeWidth": 1, "x2Offset": 24},
          "encoding": {
            "x": {"field": "f", "type": "quantitative", "axis": null}, "x2": {"field": "f"},
            "y": {"datum": 0.00132, "axis": null}, "y2": {"datum": 0.001}
          }
        },
        {
          "data": {"name": "markers"},
          "transform": [{"filter": "length(datum.label) == 6"}],
          "mark": {"type": "rect", "fill": "#f7f7f7", "stroke": "#555555", "strokeWidth": 1, "x2Offset": 28},
          "encoding": {
            "x": {"field": "f", "type": "quantitative", "axis": null}, "x2": {"field": "f"},
            "y": {"datum": 0.00132, "axis": null}, "y2": {"datum": 0.001}
          }
        },
        {
          "data": {"name": "markers"},
          "transform": [{"filter": "datum.label != '13.99' && datum.label != '15.58'"}],
          "mark": {"type": "text", "align": "left", "baseline": "middle", "dx": 2.5, "fontSize": 7.5, "font": "Liberation Sans", "color": "#333333"},
          "encoding": {
            "x": {"field": "f", "type": "quantitative", "axis": null},
            "y": {"datum": 0.00115, "axis": null},
            "text": {"field": "label"}
          }
        },
        {
          "data": {"name": "markers"},
          "transform": [{"filter": "datum.label == '13.99' || datum.label == '15.58'"}],
          "mark": {"type": "rect", "fill": "#f7f7f7", "stroke": "#555555", "strokeWidth": 1, "x2Offset": 24},
          "encoding": {
            "x": {"field": "f", "type": "quantitative", "axis": null}, "x2": {"field": "f"},
            "y": {"datum": 0.00185, "axis": null}, "y2": {"datum": 0.00132}
          }
        },
        {
          "data": {"name": "markers"},
          "transform": [{"filter": "datum.label == '13.99' || datum.label == '15.58'"}],
          "mark": {"type": "text", "align": "left", "baseline": "middle", "dx": 2.5, "fontSize": 7.5, "font": "Liberation Sans", "color": "#333333"},
          "encoding": {
            "x": {"field": "f", "type": "quantitative", "axis": null},
            "y": {"datum": 0.00157, "axis": null},
            "text": {"field": "label"}
          }
        },
        {
          "data": {"values": [{"note": "Satellie Sim. Modes"}]},
          "mark": {"type": "rect", "fill": "#dce5f1"},
          "encoding": {
            "x": {"datum": 24.51, "axis": null}, "x2": {"datum": 49.65},
            "y": {"datum": 43.85, "axis": null}, "y2": {"datum": 17.17}
          }
        },
        {
          "data": {"values": [{"note": "Satellie Sim. Modes"}]},
          "mark": {"type": "text", "align": "left", "baseline": "middle", "fontSize": 17, "font": "Liberation Sans", "color": "#262626"},
          "encoding": {
            "x": {"datum": 25.41, "axis": null},
            "y": {"datum": 27.8, "axis": null},
            "text": {"field": "note"}
          }
        },
        {
          "data": {"values": [{"note": "Global Lateral"}]},
          "mark": {"type": "rect", "fill": "#dce5f1"},
          "encoding": {
            "x": {"datum": 112.8, "axis": null}, "x2": {"datum": 182.8},
            "y": {"datum": 28.6, "axis": null}, "y2": {"datum": 11.53}
          }
        },
        {
          "data": {"values": [{"note": "Global Lateral"}]},
          "mark": {"type": "text", "align": "left", "baseline": "middle", "fontSize": 17, "font": "Liberation Sans", "color": "#262626"},
          "encoding": {
            "x": {"datum": 117.0, "axis": null},
            "y": {"datum": 18.17, "axis": null},
            "text": {"field": "note"}
          }
        },
        {
          "data": {"values": [{"note": "Balancing\nMass Modes"}]},
          "mark": {"type": "rect", "fill": "#dce5f1"},
          "encoding": {
            "x": {"datum": 11.76, "axis": null}, "x2": {"datum": 18.45},
            "y": {"datum": 0.1329, "axis": null}, "y2": {"datum": 0.02862}
          }
        },
        {
          "data": {"values": [{"note": "Balancing\nMass Modes"}]},
          "mark": {"type": "text", "align": "left", "baseline": "middle", "fontSize": 17, "font": "Liberation Sans", "color": "#262626", "lineBreak": "\n", "lineHeight": 24},
          "encoding": {
            "x": {"datum": 12.19, "axis": null},
            "y": {"datum": 0.082, "axis": null},
            "text": {"field": "note"}
          }
        }
      ]
    },
    {
      "resolve": {"axis": {"x": "independent", "y": "independent"}},
      "layer": [
        {
          "data": {"values": [{"z": 0}]},
          "mark": {"type": "rule", "color": "#d4d4d4", "strokeWidth": 1},
          "encoding": {"y": {"field": "z", "type": "quantitative", "axis": null}}
        },
        {
          "data": {"name": "phase"},
          "mark": {"type": "line", "strokeWidth": 1.2},
          "encoding": {
            "x": {"field": "f", "type": "quantitative", "scale": {"type": "log", "domain": [10, 200], "nice": false},
              "axis": {"orient": "bottom", "values": [10,12.5,16,20,25,31.5,40,50,63,80,100,125,160,200], "tickSize": -12,
                "labelExpr": "datum.value == 10 ? '10.00' : (datum.value == 200 ? '200.00' : '')", "labelFlush": true, "labelOverlap": false, "labelPadding": 18,
                "title": "Hz", "titleY": 13, "titleBaseline": "middle"}},
            "y": {"field": "v", "type": "quantitative", "scale": {"domain": [-180, 180], "range": [517, 408], "nice": false, "zero": false},
              "axis": {"orient": "left", "values": [-180,-160,-140,-120,-100,-80,-60,-40,-20,0,20,40,60,80,100,120,140,160,180], "tickSize": -8,
                "labelExpr": "datum.value == 180 ? '180.00' : (datum.value == -180 ? '-180.00' : '')", "labelFlush": true, "labelOverlap": false, "labelPadding": 14,
                "title": ["°", "Phase"], "titleX": -19, "titleBaseline": "middle", "titleAngle": -90, "titleLineHeight": 12}},
            "color": {"field": "s", "type": "nominal", "legend": null},
            "order": {"value": null}
          }
        },
        {
          "data": {"name": "markers"},
          "transform": [{"filter": "length(datum.label) == 5 && datum.label != '13.99' && datum.label != '15.58'"}],
          "mark": {"type": "rect", "fill": "#f7f7f7", "stroke": "#555555", "strokeWidth": 1, "x2Offset": 24},
          "encoding": {
            "x": {"field": "f", "type": "quantitative",
              "axis": {"orient": "bottom", "offset": -109, "values": [12.5,16,20,25,31.5,40,50,63,80,100,125,160], "tickSize": 20, "labels": false, "title": null, "domainColor": "#23236e", "domainWidth": 2.5, "zindex": 2}},
            "x2": {"field": "f"},
            "y": {"datum": -150, "axis": null}, "y2": {"datum": -183}
          }
        },
        {
          "data": {"name": "markers"},
          "transform": [{"filter": "length(datum.label) == 6"}],
          "mark": {"type": "rect", "fill": "#f7f7f7", "stroke": "#555555", "strokeWidth": 1, "x2Offset": 28},
          "encoding": {
            "x": {"field": "f", "type": "quantitative", "axis": null}, "x2": {"field": "f"},
            "y": {"datum": -150, "axis": null}, "y2": {"datum": -183}
          }
        },
        {
          "data": {"name": "markers"},
          "transform": [{"filter": "datum.label != '13.99' && datum.label != '15.58'"}],
          "mark": {"type": "text", "align": "left", "baseline": "middle", "dx": 2.5, "fontSize": 7.5, "font": "Liberation Sans", "color": "#333333"},
          "encoding": {
            "x": {"field": "f", "type": "quantitative", "axis": null},
            "y": {"datum": -166.5, "axis": null},
            "text": {"field": "label"}
          }
        },
        {
          "data": {"name": "markers"},
          "transform": [{"filter": "datum.label == '13.99' || datum.label == '15.58'"}],
          "mark": {"type": "rect", "fill": "#f7f7f7", "stroke": "#555555", "strokeWidth": 1, "x2Offset": 24},
          "encoding": {
            "x": {"field": "f", "type": "quantitative", "axis": null}, "x2": {"field": "f"},
            "y": {"datum": -113, "axis": null}, "y2": {"datum": -153}
          }
        },
        {
          "data": {"name": "markers"},
          "transform": [{"filter": "datum.label == '13.99' || datum.label == '15.58'"}],
          "mark": {"type": "text", "align": "left", "baseline": "middle", "dx": 2.5, "fontSize": 7.5, "font": "Liberation Sans", "color": "#333333"},
          "encoding": {
            "x": {"field": "f", "type": "quantitative", "axis": null},
            "y": {"datum": -133, "axis": null},
            "text": {"field": "label"}
          }
        }
      ]
    }
  ],
  "config": {
    "view": {"stroke": "#8a8a8a", "strokeWidth": 1.5},
    "axis": {"grid": false, "labelFont": "Liberation Sans", "labelFontSize": 7.5, "labelColor": "#333333", "titleFont": "Liberation Sans", "titleFontSize": 7, "titleFontWeight": "normal", "titleColor": "#333333", "tickColor": "#666666", "tickWidth": 1.2, "domainColor": "#666666", "domainWidth": 1.5},
    "legend": {"strokeColor": "#26267a", "strokeWidth": 2, "fillColor": "white", "padding": 3.5, "symbolType": "M-2,0L2,0", "symbolSize": 169, "symbolStrokeWidth": 1.5, "symbolFillColor": "transparent", "labelFontSize": 8, "labelFont": "Liberation Sans", "labelColor": "#333333", "rowPadding": -1, "symbolOffset": 16.5, "labelOffset": 11.5}
  }
}
